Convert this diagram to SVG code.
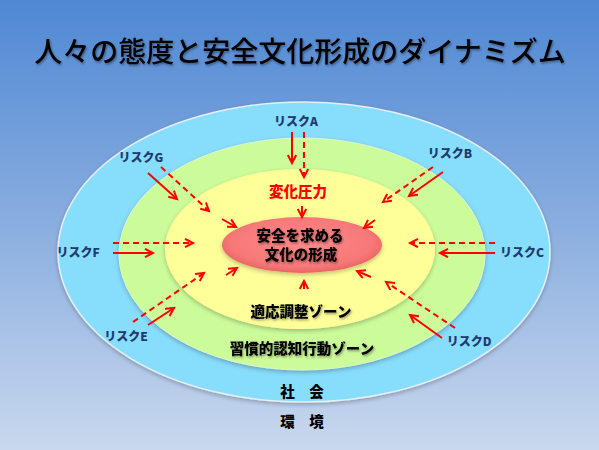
<svg xmlns="http://www.w3.org/2000/svg" width="599" height="450" viewBox="0 0 599 450">
<defs>
<linearGradient id="bg" x1="0" y1="0" x2="0" y2="1">
<stop offset="0" stop-color="#4F88D4"/>
<stop offset="0.5" stop-color="#8AAEDF"/>
<stop offset="1" stop-color="#C9D8EE"/>
</linearGradient>
<radialGradient id="redg" cx="0.5" cy="0.45" r="0.55">
<stop offset="0" stop-color="#FF8A8A"/>
<stop offset="0.8" stop-color="#F77878"/>
<stop offset="1" stop-color="#E86464"/>
</radialGradient>
<filter id="tsh" x="-10%" y="-30%" width="120%" height="160%">
<feDropShadow dx="1" dy="1.5" stdDeviation="1" flood-color="#000" flood-opacity="0.4"/>
</filter>
<filter id="esh" x="-10%" y="-10%" width="120%" height="125%">
<feDropShadow dx="0" dy="2" stdDeviation="2" flood-color="#000" flood-opacity="0.25"/>
</filter>
<marker id="ah" markerWidth="12" markerHeight="12" refX="9" refY="5" orient="auto" markerUnits="userSpaceOnUse">
<path d="M1,0.8 L9,5 L1,9.2" fill="none" stroke="#FF0000" stroke-width="2" stroke-dasharray="none"/>
</marker>
</defs>
<style>
.risk{font-family:"Noto Sans CJK JP","Noto Sans",sans-serif;font-weight:900;font-size:12px;fill:#1F3A6E;text-anchor:middle}
.zone{font-family:"Noto Sans CJK JP","Noto Sans",sans-serif;font-weight:900;font-size:14.5px;fill:#000;text-anchor:middle}
.press{font-family:"Noto Sans CJK JP","Noto Sans",sans-serif;font-weight:900;font-size:14.5px;fill:#FF0000;text-anchor:middle}
.arr{stroke:#FF0000;stroke-width:2;fill:none;marker-end:url(#ah)}
.dash{stroke-dasharray:6 4}
</style>
<rect x="0" y="0" width="599" height="450" fill="url(#bg)"/>
<text x="300" y="62" font-family="'Noto Sans CJK JP','Noto Sans',sans-serif" font-size="28" font-weight="500" fill="#000" text-anchor="middle" filter="url(#tsh)">人々の態度と安全文化形成のダイナミズム</text>

<g id="zone-environment">
<text class="zone" x="302" y="427" font-size="13.5">環　境</text>
</g>
<g id="zone-society">
<ellipse cx="304" cy="252" rx="246" ry="150" fill="#87DDFC" stroke="#E6EEF6" stroke-width="1.5" filter="url(#esh)"/>
<text class="zone" x="302" y="397" font-size="13.5">社　会</text>
</g>
<g id="zone-habitual">
<ellipse cx="302" cy="254" rx="183" ry="116" fill="#CCFB99" stroke="#E0F5C8" stroke-width="1" filter="url(#esh)"/>
<text class="zone" x="302" y="354" filter="url(#tsh)">習慣的認知行動ゾーン</text>
</g>
<g id="zone-adaptive">
<ellipse cx="300" cy="249" rx="135" ry="80" fill="#FFFF99" filter="url(#esh)"/>
<text class="zone" x="301" y="317" filter="url(#tsh)">適応調整ゾーン</text>
</g>
<g id="core">
<ellipse cx="302" cy="245" rx="80" ry="28" fill="url(#redg)" filter="url(#esh)"/>
<text class="zone" x="300" y="241" filter="url(#tsh)">安全を求める</text>
<text class="zone" x="301" y="260" filter="url(#tsh)">文化の形成</text>
</g>
<g id="pressure">
<text class="press" x="298" y="197">変化圧力</text>
</g>

<g id="riskA"><text class="risk" x="296" y="126">リスクA</text></g>
<g id="riskB"><text class="risk" x="450" y="158">リスクB</text></g>
<g id="riskC"><text class="risk" x="522" y="257">リスクC</text></g>
<g id="riskD"><text class="risk" x="469" y="346">リスクD</text></g>
<g id="riskE"><text class="risk" x="126" y="341">リスクE</text></g>
<g id="riskF"><text class="risk" x="78" y="257">リスクF</text></g>
<g id="riskG"><text class="risk" x="141" y="162">リスクG</text></g>

<g id="connectors">
<line class="arr" x1="292" y1="132" x2="292" y2="163"/>
<line class="arr dash" x1="304" y1="132" x2="304" y2="177"/>
<line class="arr" x1="302" y1="206" x2="302" y2="217"/>
<line class="arr" x1="148" y1="173" x2="177" y2="199"/>
<line class="arr dash" x1="161" y1="167" x2="209" y2="211"/>
<line class="arr" x1="222" y1="219" x2="236" y2="227"/>
<line class="arr dash" x1="113" y1="243" x2="193" y2="243"/>
<line class="arr" x1="113" y1="253" x2="153" y2="253"/>
<line class="arr" x1="443" y1="172" x2="409" y2="196"/>
<line class="arr dash" x1="433" y1="167" x2="383" y2="202"/>
<line class="arr" x1="375" y1="220" x2="364" y2="228"/>
<line class="arr dash" x1="495" y1="243" x2="410" y2="243"/>
<line class="arr" x1="495" y1="253" x2="440" y2="253"/>
<line class="arr dash" x1="133" y1="322" x2="204" y2="273"/>
<line class="arr" x1="148" y1="325" x2="174" y2="308"/>
<line class="arr" x1="226" y1="275" x2="237" y2="268"/>
<line class="arr" x1="304" y1="289" x2="304" y2="281"/>
<line class="arr" x1="442" y1="338" x2="410" y2="315"/>
<line class="arr dash" x1="455" y1="328" x2="386" y2="282"/>
<line class="arr" x1="371" y1="277" x2="357" y2="271"/>
</g>
</svg>
